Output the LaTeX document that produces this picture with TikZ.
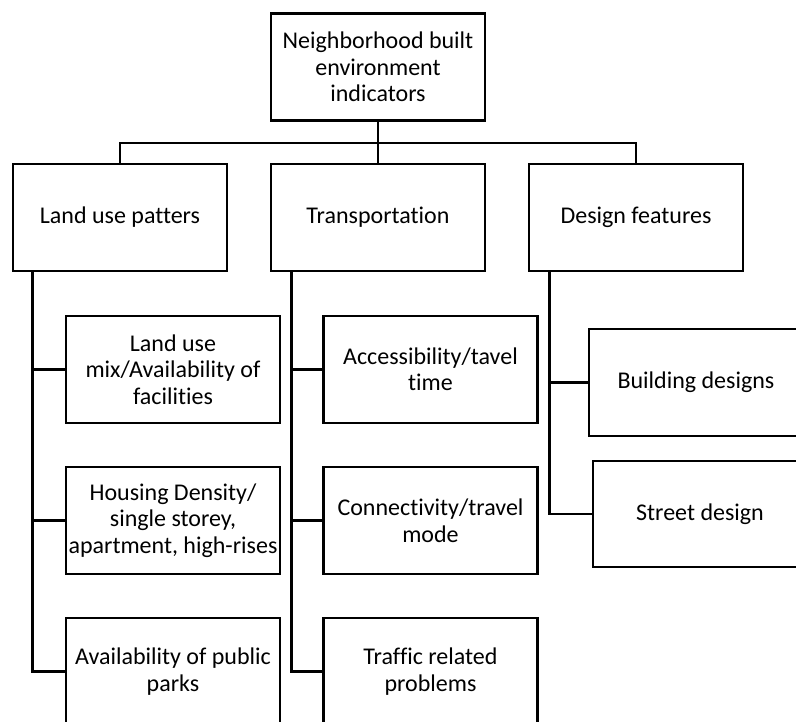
\documentclass[tikz,border=0pt]{standalone}
\usepackage{fontspec}
\setmainfont{Carlito}[Ligatures=NoCommon]
\usepackage{tikz}
\usetikzlibrary{positioning}

\begin{document}
\begin{tikzpicture}[x=1pt,y=-1pt,line width=2.7pt,
  box/.style = {draw, rectangle, align=center, minimum width=214pt, minimum height=107pt, inner sep=1pt,
    font=\fontsize{24}{26.5}\selectfont}]
  \useasboundingbox (0,0) rectangle (796,722);
  \clip (0,0) rectangle (796,722);

  % top and second level
  \node[box] (top) at (378,67) {Neighborhood built\\environment\\indicators};
  \node[box] (landuse) at (120,217.5) {Land use patters};
  \node[box] (transport) at (378,217.5) {Transportation};
  \node[box] (design) at (636,217.5) {Design features};

  \coordinate (bus) at (378,143);
  \draw (top) -- (bus);
  \draw (landuse.north) |- (bus) -| (design.north);
  \draw (bus) -- (transport.north);

  % land use
  \node[box] (mix) at (173,369.5) {Land use\\mix/Availability of\\facilities};
  \node[box] (housing) at (173,520.5) {Housing Density/\\single storey,\\apartment, high-rises};
  \node[box] (parks) at (173,671.5) {Availability of public\\parks};

  \coordinate (lspine) at ([xshift=21pt]landuse.south west);
  \draw (lspine) |- (parks.west);
  \draw (lspine |- mix.west) -- (mix.west);
  \draw (lspine |- housing.west) -- (housing.west);

  % transportation
  \node[box] (access) at (430.5,369.5) {Accessibility/tavel\\time};
  \node[box] (connect) at (430.5,520.5) {Connectivity/travel\\mode};
  \node[box] (traffic) at (430.5,671.5) {Traffic related\\problems};

  \coordinate (tspine) at ([xshift=22pt]transport.south west);
  \draw (tspine) |- (traffic.west);
  \draw (tspine |- access.west) -- (access.west);
  \draw (tspine |- connect.west) -- (connect.west);

  % design
  \node[box] (building) at (696,382.5) {Building designs};
  \node[box, minimum height=106pt] (street) at (700,514) {Street design};

  \coordinate (dspine) at ([xshift=22pt]design.south west);
  \draw (dspine) |- (street.west);
  \draw (dspine |- building.west) -- (building.west);
\end{tikzpicture}
\end{document}
